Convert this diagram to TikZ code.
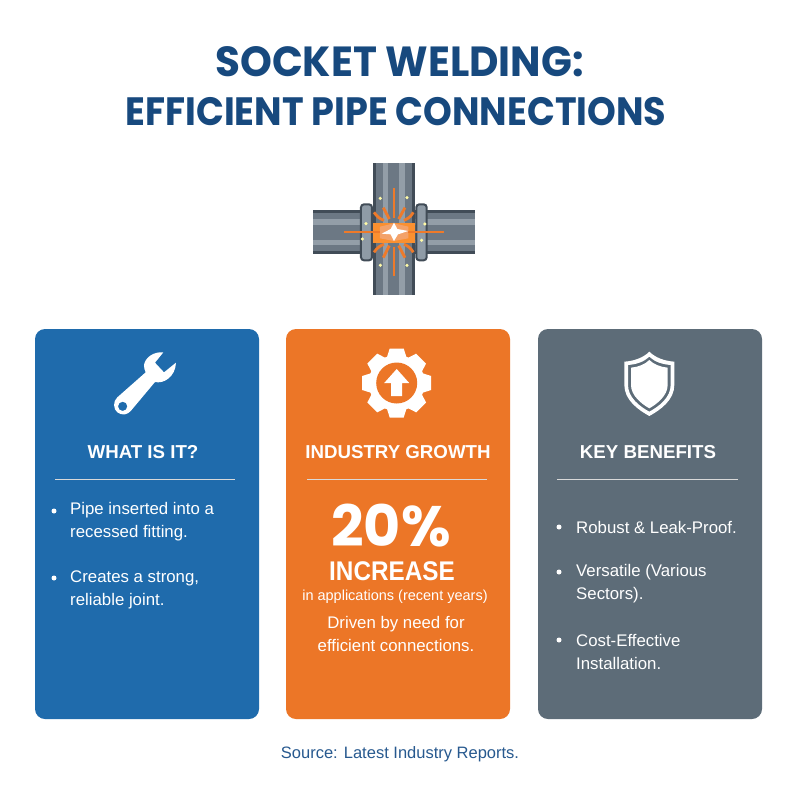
\documentclass[tikz,border=0pt]{standalone}
\usepackage{fontspec}
\setmainfont{Liberation Sans}
\newfontfamily\headfont{Poppins}[UprightFont=* Bold,BoldFont=* Bold]
\definecolor{bluecard}{HTML}{1F6BAC}
\definecolor{orangecard}{HTML}{EC7627}
\definecolor{graycard}{HTML}{5D6C78}
\definecolor{navy}{HTML}{17497E}
\definecolor{sourceblue}{HTML}{27598F}
\definecolor{pipedark}{HTML}{414C57}
\definecolor{pipemid}{HTML}{6C7884}
\definecolor{pipelight}{HTML}{939EA8}
\definecolor{flangefill}{HTML}{8F9BA6}
\definecolor{sparkor}{HTML}{EE7A2A}
\tikzset{
  card/.style={rounded corners=10pt,draw=none},
  cardhead/.style={text=white,font=\fontsize{18.7}{20}\selectfont\bfseries,anchor=center},
  cardrule/.style={draw=white!85!black,line width=.8pt},
  bodytext/.style={text=white,font=\fontsize{16.8}{23}\selectfont,align=left,anchor=west,inner sep=0pt},
  dotbullet/.style={circle,fill=white,minimum size=5pt,inner sep=0pt},
  spark/.style={draw=sparkor,line width=2.8pt},
  sparkdot/.style={circle,fill=yellow!35!white,minimum size=3.5pt,inner sep=0pt},
}
\begin{document}
\begin{tikzpicture}[x=1pt,y=-1pt]
\useasboundingbox (0,0) rectangle (800,800);
\fill[white] (0,0) rectangle (800,800);
\node (t1) at (399.5,62) [text=navy,font=\fontsize{40.5}{40}\selectfont\headfont] {\scalebox{1}[1.04]{SOCKET WELDING:}};
\node (t2) at (396,112) [text=navy,font=\fontsize{36.6}{38}\selectfont\headfont] {\scalebox{1}[1.08]{EFFICIENT PIPE CONNECTIONS}};
% pipe
\begin{scope}[shift={(300,155)},x=.3333pt,y=-.3333pt]
 \fill[pipedark] (38,165) rectangle (525,298);
 \fill[pipemid] (38,175) rectangle (525,288);
 \fill[pipelight] (38,193) rectangle (525,210);
 \fill[pipelight] (38,255) rectangle (525,270);
 \fill[pipedark] (218,25) rectangle (345,420);
 \fill[pipemid] (228,25) rectangle (335,420);
 \fill[pipelight] (248,25) rectangle (265,420);
 \fill[pipelight] (298,25) rectangle (315,420);
 \fill[flangefill,draw=pipedark,line width=2pt,rounded corners=3pt] (183,148) rectangle (216,316);
 \fill[flangefill,draw=pipedark,line width=2pt,rounded corners=3pt] (349,148) rectangle (380,316);
 \fill[orange!70!orangecard!85!white] (218,203) rectangle (345,263);
 \fill[sparkor!70!white] (240,215) -- (282,205) -- (325,215) -- (325,250) -- (282,258) -- (240,250) -- cycle;
 \draw[spark] (282,100) -- (282,190);
 \draw[spark] (282,275) -- (282,362);
 \draw[spark] (132,231) -- (240,231);
 \draw[spark] (325,231) -- (432,231);
 \draw[spark] (250,158) -- (268,192);
 \draw[spark] (315,158) -- (296,192);
 \draw[spark] (250,308) -- (268,272);
 \draw[spark] (315,308) -- (296,272);
 \draw[spark] (222,172) .. controls (232,186) and (240,192) .. (252,196);
 \draw[spark] (340,172) .. controls (332,186) and (322,192) .. (312,196);
 \draw[spark] (222,292) .. controls (232,278) and (240,272) .. (252,268);
 \draw[spark] (340,292) .. controls (332,278) and (322,272) .. (312,268);
 \fill[white] (282,203) -- (292,222) -- (325,228) -- (294,238) -- (282,258) -- (272,238) -- (245,236) -- (272,222) -- cycle;
 \node[sparkdot] at (241,130) {};
 \node[sparkdot] at (321,128) {};
 \node[sparkdot] at (241,331) {};
 \node[sparkdot] at (321,331) {};
 \node[sparkdot] at (198,206) {};
 \node[sparkdot] at (187,252) {};
 \node[sparkdot] at (375,207) {};
 \node[sparkdot] at (365,256) {};
\end{scope}
% cards
\fill[card,fill=bluecard] (35,329) rectangle (259,719);
\fill[card,fill=orangecard] (286,329) rectangle (510,719);
\fill[card,fill=graycard] (538,329) rectangle (762,719);
% wrench
\begin{scope}[shift={(100,340)},x=.3333pt,y=-.3333pt]
 \fill[white,even odd rule]
  (190,37) .. controls (160,34) and (134,54) .. (132,76)
  .. controls (132,84) and (134,90) .. (137,97)
  -- (52,172) .. controls (38,184) and (40,208) .. (52,217)
  .. controls (66,228) and (84,224) .. (93,212)
  -- (165,126) .. controls (190,132) and (226,112) .. (228,68)
  -- (192,97) -- (165,68) -- cycle
  (68,199) circle[radius=14];
\end{scope}
% gear
\begin{scope}[shift={(396.7,383)}]
 \fill[white] (0,0) circle[radius=28];
 \foreach \a in {0,45,...,315}{
  \fill[white,rotate=\a] (-10,-25) -- (-7,-34.5) -- (7,-34.5) -- (10,-25) -- cycle;
 }
 \fill[orangecard] (0,0) circle[radius=20.5];
 \fill[white] (0,-14) -- (12.5,0) -- (5.5,0) -- (5.5,13) -- (-5.5,13) -- (-5.5,0) -- (-12.5,0) -- cycle;
\end{scope}
% shield
\begin{scope}[shift={(605,345)},x=.3333pt,y=-.3333pt]
 \fill[white,even odd rule]
  (133,20) .. controls (115,38) and (88,48) .. (58,50)
  -- (58,120) .. controls (58,165) and (100,195) .. (133,213)
  .. controls (166,195) and (208,165) .. (208,120)
  -- (208,50) .. controls (178,48) and (151,38) .. (133,20) -- cycle
  (133,35) .. controls (118,50) and (95,58) .. (69,60)
  -- (69,120) .. controls (69,158) and (105,185) .. (133,200)
  .. controls (161,185) and (197,158) .. (197,120)
  -- (197,60) .. controls (171,58) and (148,50) .. (133,35) -- cycle;
 \fill[white]
  (133,45) .. controls (120,58) and (100,66) .. (78,68)
  -- (78,120) .. controls (78,152) and (110,177) .. (133,190)
  .. controls (156,177) and (188,152) .. (188,120)
  -- (188,68) .. controls (166,66) and (146,58) .. (133,45) -- cycle;
\end{scope}
% headings
\node[cardhead] (h1) at (143,452) {WHAT IS IT?};
\node[cardhead] (h2) at (398,452) {INDUSTRY GROWTH};
\node[cardhead] (h3) at (648,452) {KEY BENEFITS};
\coordinate (r1a) at (55,479.5); \coordinate (r1b) at (235,479.5);
\coordinate (r2a) at (307,479.5); \coordinate (r2b) at (487,479.5);
\coordinate (r3a) at (557,479.5); \coordinate (r3b) at (738,479.5);
\draw[cardrule] (r1a) -- (r1b);
\draw[cardrule] (r2a) -- (r2b);
\draw[cardrule] (r3a) -- (r3b);
% card 1
\node[dotbullet] at (54,511) {};
\node[bodytext] at (70,522) {Pipe inserted into a\\recessed fitting.};
\node[dotbullet] at (54,578) {};
\node[bodytext] at (70,589.5) {Creates a strong,\\reliable joint.};
% card 2
\node (big) at (391,546) [text=white,font=\fontsize{57}{57}\selectfont\headfont,inner sep=0pt] {\smash{20\%}};
\node (inc) at (392,571) [text=white,font=\fontsize{27}{27}\selectfont\bfseries,inner sep=0pt] {\scalebox{.9}[1]{INCREASE}};
\node at (395,597) [text=white,font=\fontsize{14.5}{16}\selectfont,inner sep=0pt] {in applications (recent years)};
\node at (396,634) [text=white,font=\fontsize{16.8}{23}\selectfont,align=center,inner sep=0pt] {Driven by need for\\efficient connections.};
% card 3
\node[dotbullet] at (559,527) {};
\node[bodytext] at (576,527) {Robust \& Leak-Proof.};
\node[dotbullet] at (559,572) {};
\node[bodytext] at (576,583.5) {Versatile (Various\\Sectors).};
\node[dotbullet] at (559,640) {};
\node[bodytext] at (576,651.5) {Cost-Effective\\Installation.};
\node at (400,754) [text=sourceblue,font=\fontsize{16.5}{18}\selectfont] {Source: Latest Industry Reports.};
\end{tikzpicture}
\end{document}
